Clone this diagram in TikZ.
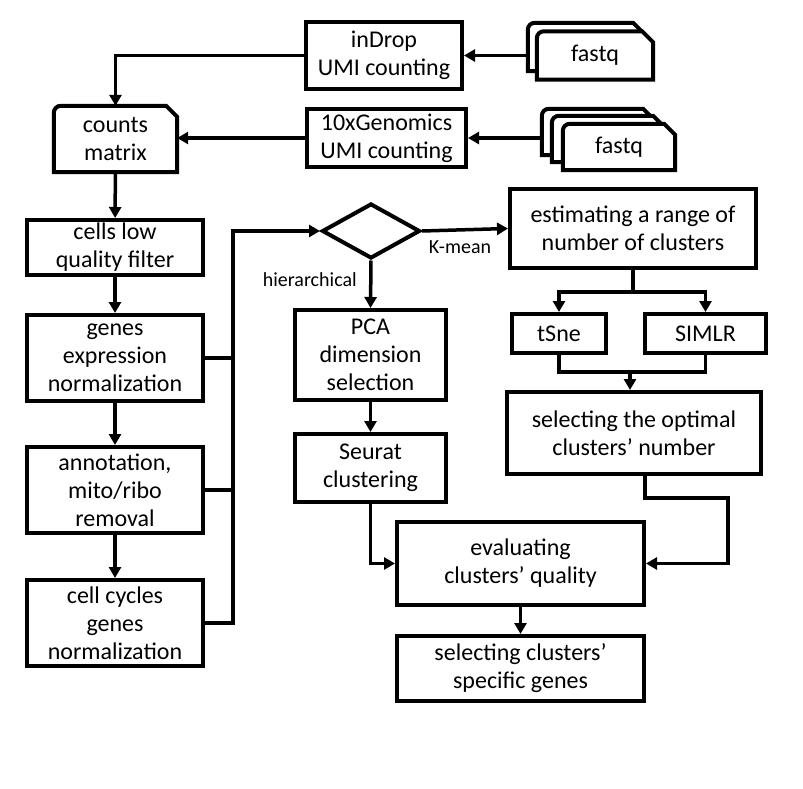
\documentclass[tikz,border=0pt]{standalone}
\usepackage{fontspec}
\setmainfont{Carlito}
\usepackage{tikz}
\usetikzlibrary{arrows.meta,shapes,positioning,backgrounds,calc}

\newcommand{\snipbox}[1]{%
	\filldraw[fill=white,line width=4pt] (#1.south west) [rounded corners=7pt] -- (#1.north west) [sharp corners] -- ([xshift=-11pt]#1.north east) -- ([yshift=-11pt]#1.north east) -- (#1.south east) -- cycle;}

\begin{document}
\begin{tikzpicture}[x=1pt,y=-1pt,
	box/.style={draw,line width=4pt,align=center,inner sep=2pt,font=\fontsize{24}{28}\selectfont},
	sheet/.style={align=center,inner sep=0pt,font=\fontsize{24}{28}\selectfont},
	wh/.style 2 args={minimum width=#1pt,minimum height=#2pt},
	lbl/.style={font=\fontsize{20}{24}\selectfont},
	line/.style={line width=3.5pt},
	arr/.style={line,->,>={Triangle[length=11pt,width=12pt]}}]
		\useasboundingbox (0,0) rectangle (803,789);
		% inputs
		\node[sheet,wh={116}{48}] (fq1b) at (586,47) {};
		\node[sheet,wh={116}{48}] (fq1) at (595,55.5) {fastq};
		\node[sheet,wh={112}{46}] (fq2b) at (598,132) {};
		\node[sheet,wh={112}{46}] (fq2m) at (608,139) {};
		\node[sheet,wh={112}{46}] (fq2) at (619,147) {fastq};
		\node[sheet,wh={123}{66}] (counts) at (115.5,139) {counts\\matrix};
		\begin{pgfonlayer}{background}
			\snipbox{fq1b}\snipbox{fq1}
			\snipbox{fq2b}\snipbox{fq2m}\snipbox{fq2}
			\snipbox{counts}
		\end{pgfonlayer}
		\node[box,wh={156}{67}] (indrop) at (384,55.5) {inDrop\\UMI counting};
		\node[box,wh={159}{58}] (tenx) at (386.5,138) {10xGenomics\\UMI counting};
		% left column
		\node[box,wh={176}{55}] (filter) at (115,247.5) {cells low\\quality filter};
		\node[box,wh={176}{86}] (genexpr) at (115,358) {genes\\expression\\normalization};
		\node[box,wh={176}{86}] (annot) at (115,490) {annotation,\\mito/ribo\\removal};
		\node[box,wh={176}{86}] (cycles) at (115,623) {cell cycles\\genes\\normalization};
		% clustering
		\node[diamond,draw,line width=4pt,inner sep=0pt,wh={98}{55}] (dia) at (371,231) {};
		\node[box,wh={151}{90}] (pca) at (370.5,355) {PCA\\dimension\\selection};
		\node[box,wh={151}{68}] (seurat) at (370.5,468) {Seurat\\clustering};
		\node[box,wh={246}{79}] (estim) at (633,228.5) {estimating a range of\\number of clusters};
		\node[box,wh={94}{39}] (tsne) at (559,333.5) {tSne};
		\node[box,wh={121}{39}] (simlr) at (705.5,333.5) {SIMLR};
		\node[box,wh={254}{82}] (optimal) at (634,433) {selecting the optimal\\clusters’ number};
		\node[box,wh={247}{83}] (evalq) at (520.5,563.5) {evaluating\\clusters’ quality};
		\node[box,wh={247}{65}] (specific) at (520.5,668.5) {selecting clusters’\\specific genes};
		\coordinate (bus) at (233,231);
		\coordinate (split) at (633,292);
		\coordinate (merge) at (630,372);
		\coordinate (detour) at (728,498);
		% connectors
		\draw[arr] (fq1b.west |- indrop.east) -- (indrop.east);
		\draw[arr] (fq2b.west |- tenx.east) -- (tenx.east);
		\draw[arr] (indrop.west) -| (counts.north);
		\draw[arr] (tenx.west) -- (tenx.west -| counts.east);
		\draw[arr] (counts) -- (filter);
		\draw[arr] (filter) -- (genexpr);
		\draw[arr] (genexpr) -- (annot);
		\draw[arr] (annot) -- (cycles);
		\draw[arr] (cycles.east) -| (bus) -- (dia.west);
		\draw[line] (genexpr.east) -- (genexpr.east -| bus);
		\draw[line] (annot.east) -- (annot.east -| bus);
		\draw[arr] (dia.east) -- node[lbl,below=6pt,xshift=-5pt] {K-mean} (estim.west);
		\draw[arr] (dia.south) -- node[lbl,left=9pt,pos=0.4] {hierarchical} (pca.north);
		\draw[arr] (pca) -- (seurat);
		\draw[arr] (seurat.south) |- (evalq.west);
		\draw[line] (estim.south) -- (split);
		\draw[arr] (split) -| (tsne.north);
		\draw[arr] (split) -| (simlr.north);
		\draw[line] (tsne.south) |- (merge) -| (simlr.south);
		\draw[arr] (merge) -- (merge |- optimal.north);
		\draw[arr] ([xshift=11pt]optimal.south) |- (detour) |- (evalq.east);
		\draw[arr] (evalq) -- (specific);
\end{tikzpicture}
\end{document}
